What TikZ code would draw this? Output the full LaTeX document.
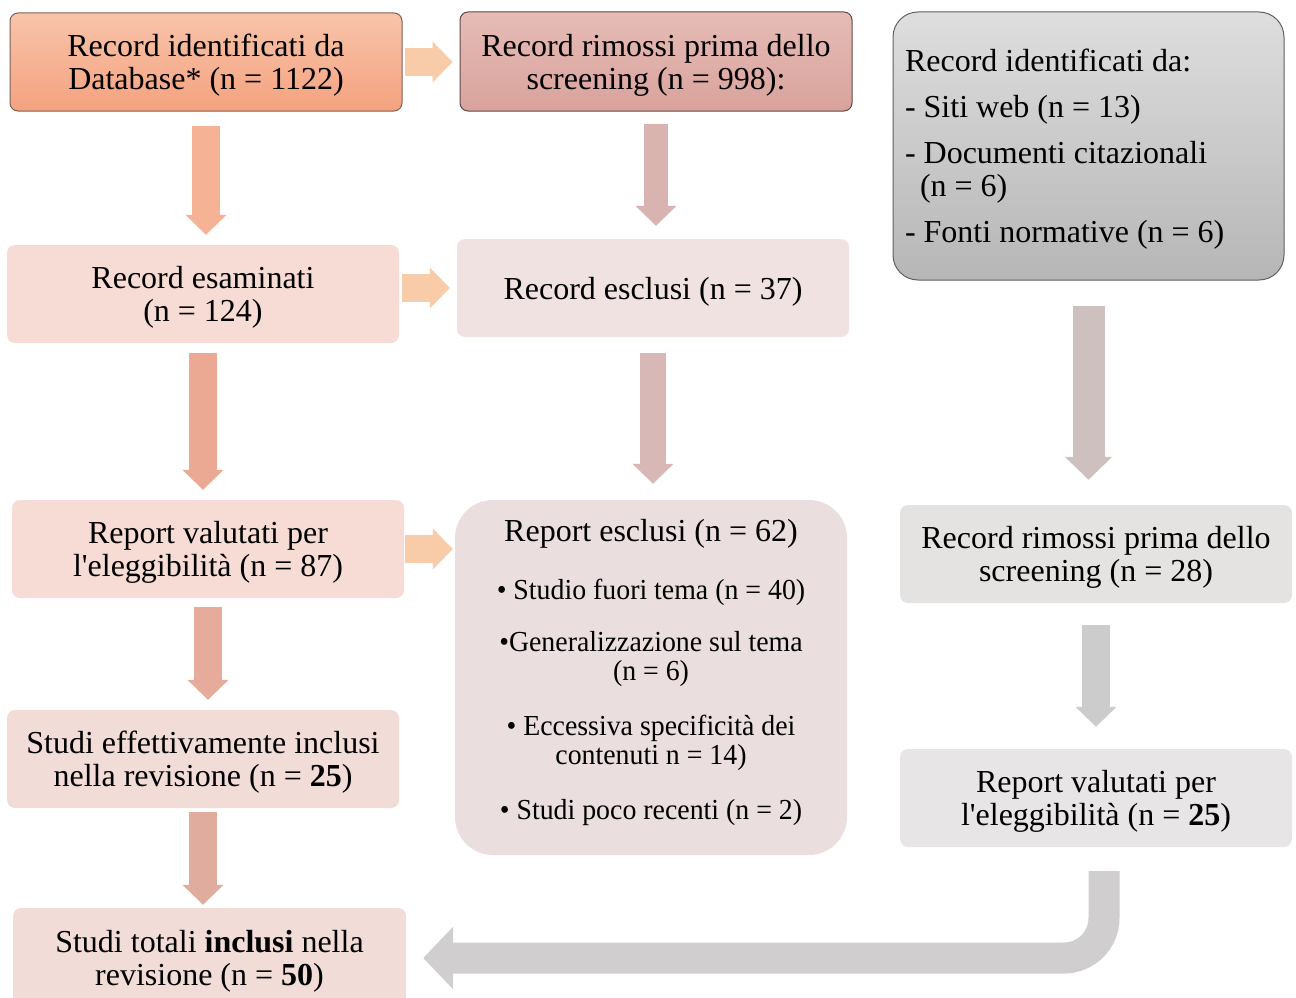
\documentclass[tikz,border=0pt]{standalone}
\usepackage{fontspec}
\setmainfont{Liberation Serif}
\newfontfamily\condfont{Liberation Serif}[FakeStretch=0.96]
\usetikzlibrary{arrows.meta,calc}
\definecolor{aTop}{HTML}{F8C4AA}
\definecolor{aBot}{HTML}{F4A27F}
\definecolor{aLine}{HTML}{7F5F55}
\definecolor{bTop}{HTML}{E6BCB7}
\definecolor{bBot}{HTML}{D9A29C}
\definecolor{bLine}{HTML}{5F4A48}
\definecolor{cTop}{HTML}{DEDEDE}
\definecolor{cBot}{HTML}{B6B6B6}
\definecolor{cLine}{HTML}{606060}
\definecolor{dFill}{HTML}{F6DCD5}
\definecolor{eFill}{HTML}{EFE2E1}
\definecolor{gFill}{HTML}{EBDEDF}
\definecolor{hFill}{HTML}{E5E2E2}
\definecolor{iFill}{HTML}{F2DCD8}
\definecolor{jFill}{HTML}{E7E5E5}
\definecolor{arPeach}{HTML}{F8CBA9}
\definecolor{arAD}{HTML}{F5B295}
\definecolor{arBE}{HTML}{D9B3AF}
\definecolor{arDF}{HTML}{EBA893}
\definecolor{arEG}{HTML}{D8B8B6}
\definecolor{arFI}{HTML}{E6AB9B}
\definecolor{arIK}{HTML}{E0AC9E}
\definecolor{arCH}{HTML}{CFC0C0}
\definecolor{arHJ}{HTML}{CCCCCC}
\definecolor{arJK}{HTML}{D0CECE}
\newcommand{\apo}{\textquotesingle}
\tikzset{
  box/.style={rounded corners=8pt, minimum width=392pt, minimum height=98pt,
    align=flush center, inner sep=0pt, text width=384pt,
    font=\fontsize{32}{33}\selectfont,
    execute at begin node={\rule{0pt}{29pt}}},
  bitem/.style={align=flush center, inner sep=0pt, font=\condfont\fontsize{29}{29}\selectfont},
  blockarrow/.style={line width=28pt, -{Triangle[width=40pt,length=20pt]}},
  bigarrow/.style={line width=32pt, -{Triangle[width=46pt,length=23pt]}},
}
\begin{document}
\begin{tikzpicture}[x=1pt,y=-1pt]
\useasboundingbox (0,0) rectangle (1296,998);

% nodes
\node[box, draw=aLine, line width=1pt, top color=aTop, bottom color=aBot] (A) at (206,62)
  {Record identificati da\\Database* (n = 1122)};
\node[box, draw=bLine, line width=1pt, top color=bTop, bottom color=bBot, minimum height=99pt] (B) at (656,61.5)
  {Record rimossi prima dello\\screening (n = 998):};
\node[draw=cLine, line width=1pt, top color=cTop, bottom color=cBot, rounded corners=25pt,
  minimum width=391pt, minimum height=268pt, inner xsep=12pt, inner ysep=0pt, text width=367pt,
  align=flush left, font=\fontsize{32}{33}\selectfont,
  execute at begin node={\rule{0pt}{29pt}}] (C) at (1088.5,146)
  {Record identificati da:\\[13pt]
   - Siti web (n = 13)\\[13pt]
   - Documenti citazionali\\
   \hspace*{15pt}(n = 6)\\[13pt]
   - Fonti normative (n = 6)};
\node[box, fill=dFill] (D) at (203,294) {Record esaminati\\(n = 124)};
\node[box, fill=eFill] (E) at (653,288) {Record esclusi (n = 37)};
\node[box, fill=dFill] (F) at (208,549) {Report valutati per\\l\apo eleggibilità (n = 87)};
\node[box, fill=gFill, rounded corners=38pt, minimum height=355pt] (G) at (651,677.5) {};
\node[box, fill=hFill] (H) at (1096,554) {Record rimossi prima dello\\screening (n = 28)};
\node[box, fill=iFill] (I) at (203,759) {Studi effettivamente inclusi\\nella revisione (n = \textbf{25})};
\node[box, fill=jFill] (J) at (1096,798) {Report valutati per\\l\apo eleggibilità (n = \textbf{25})};
\node[box, fill=iFill, minimum width=393pt, minimum height=100pt] (K) at (209.5,958)
  {Studi totali \textbf{inclusi} nella\\revisione (n = \textbf{50})};

% text inside G
\node[inner sep=0pt, font=\fontsize{32}{33}\selectfont] (g0) at (651,534) {Report esclusi (n = 62)};
\node[bitem] (g1) at (651,592) {• Studio fuori tema (n = 40)};
\node[bitem] (g2) at (651,659.5) {•Generalizzazione sul tema\\(n = 6)};
\node[bitem] (g3) at (651,742.5) {• Eccessiva specificità dei\\contenuti n = 14)};
\node[bitem] (g4) at (651,813) {• Studi poco recenti (n = 2)};

% connectors
\draw[blockarrow, draw=arPeach, shorten <=2pt, shorten >=7pt] (A.east) -- (A.east -| B.west);
\draw[blockarrow, draw=arAD, shorten <=14pt, shorten >=10pt] (A.south) -- (A.south |- D.north);
\draw[blockarrow, draw=arBE, line width=24pt, shorten <=12pt, shorten >=13pt] (B.south) -- (B.south |- E.north);
\draw[blockarrow, draw=arPeach, shorten <=3pt, shorten >=7pt] (D.east |- E.west) -- (E.west);
\draw[blockarrow, draw=arDF, shorten <=10pt, shorten >=10pt] (D.south) -- (D.south |- F.north);
\draw[blockarrow, draw=arEG, line width=26pt, shorten <=16pt, shorten >=16pt] (E.south) -- (E.south |- G.north);
\draw[blockarrow, draw=arPeach, shorten <=1pt, shorten >=2pt] (F.east) -- (F.east -| G.west);
\draw[blockarrow, draw=arFI, shorten <=9pt, shorten >=10pt] (F.south) -- (F.south |- I.north);
\draw[blockarrow, draw=arIK, shorten <=4pt, shorten >=3pt] (I.south) -- (I.south |- K.north);
\draw[bigarrow, draw=arCH, shorten <=25pt, shorten >=25pt] (C.south) -- (C.south |- H.north);
\draw[blockarrow, draw=arHJ, shorten <=22pt, shorten >=22pt] (H.south) -- (H.south |- J.north);
\coordinate (jk) at ($(J.south)+(8,24)$);
\draw[line width=31pt, draw=arJK, rounded corners=40pt,
  -{Triangle[width=61pt,length=30pt]}, shorten >=17pt] (jk) |- (K.east);
\end{tikzpicture}
\end{document}
